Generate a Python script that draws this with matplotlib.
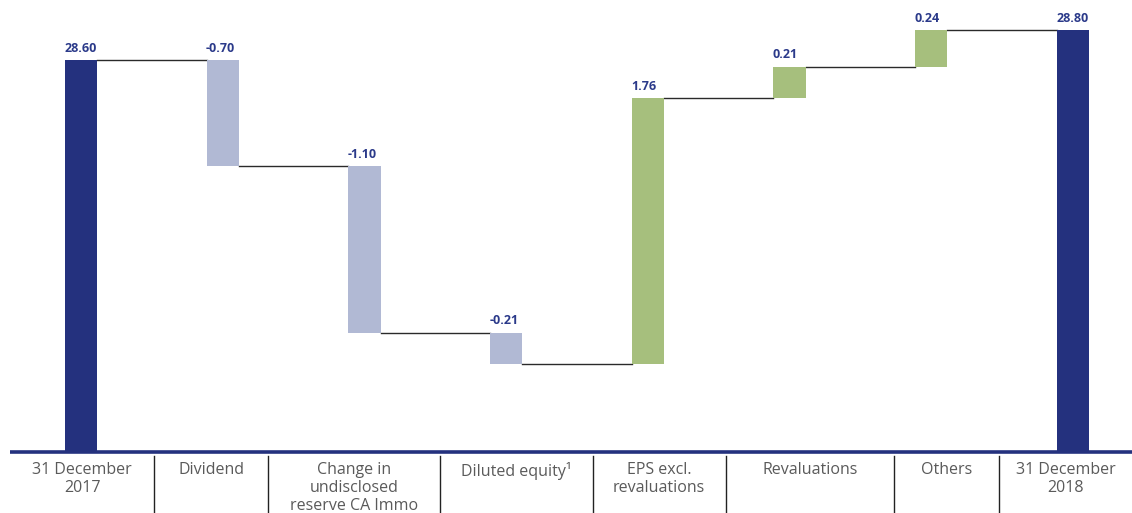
import matplotlib.pyplot as plt
import numpy as np

plt.rcParams['font.family'] = ['Open Sans', 'DejaVu Sans']

# 数据
categories = ['31 December\n2017', 'Dividend', 'Change in\nundisclosed\nreserve CA Immo',
              'Diluted equity\u00b9', 'EPS excl.\nrevaluations', 'Revaluations', 'Others',
              '31 December\n2018']
values = [28.60, -0.70, -1.10, -0.21, 1.76, 0.21, 0.24, 28.80]
value_labels = ['28.60', '-0.70', '-1.10', '-0.21', '1.76', '0.21', '0.24', '28.80']
y_floor = 26.0

navy = '#24317e'
lilac = '#b1b9d4'
green = '#a6bf7d'
label_col = '#2b3a8a'

# 柱子底部和顶部
bottoms, tops, colors = [], [], []
running = values[0]
for i, v in enumerate(values):
    if i == 0 or i == len(values) - 1:
        bottoms.append(y_floor)
        tops.append(v)
        colors.append(navy)
        running = v
    else:
        lo, hi = sorted([running, running + v])
        bottoms.append(lo)
        tops.append(hi)
        colors.append(lilac if v < 0 else green)
        running = running + v

label_y = []
r = values[0]
for i, v in enumerate(values):
    if i == 0 or i == len(values) - 1:
        label_y.append(v)
    else:
        label_y.append(max(r, r + v))
        r += v

fig = plt.figure(figsize=(11.32, 5.13), dpi=100)
ax = fig.add_axes([0, 61 / 513, 1, 452 / 513])

x = np.arange(len(values))
w = 0.228
heights = np.array(tops) - np.array(bottoms)
ax.bar(x, heights, bottom=bottoms, width=w, color=colors, align='center', zorder=2)

# 连接线
levels = []
r = values[0]
for i, v in enumerate(values[:-1]):
    if i > 0:
        r += v
    levels.append(r)
for i, lev in enumerate(levels):
    ax.plot([x[i] + w / 2, x[i + 1] - w / 2], [lev, lev], color='#2a2a2a', lw=1.0, zorder=1)

# 数值标签
for i in range(len(values)):
    ax.annotate(value_labels[i], (x[i] - w / 2, label_y[i]), xytext=(-0.5, 4),
                textcoords='offset points', ha='left', va='bottom',
                fontsize=9, fontweight='bold', color=label_col)

ax.set_xlim(-0.572, 7.417)
ax.set_ylim(y_floor + 0.01, 29.0)
ax.axis('off')

# 底部轴线
ax.plot([-0.50, 7.417], [y_floor + 0.01, y_floor + 0.01], color=navy, lw=2.6, zorder=3,
        clip_on=False, solid_capstyle='butt')

# 分隔线和类别标签
seps = [-0.50, 0.515, 1.32, 2.53, 3.61, 4.55, 5.74, 6.48, 7.417]
tr = ax.get_xaxis_transform()
for s in seps[1:-1]:
    ax.plot([s, s], [-0.008, -0.2], color='#222222', lw=1.0, transform=tr, clip_on=False)
for i, c in enumerate(categories):
    cx = (seps[i] + seps[i + 1]) / 2
    ax.text(cx, -0.022, c, transform=tr, ha='center', va='top', fontsize=11.5,
            color='#5a5a5a', linespacing=1.15)

fig.savefig('out.png', dpi=100)
